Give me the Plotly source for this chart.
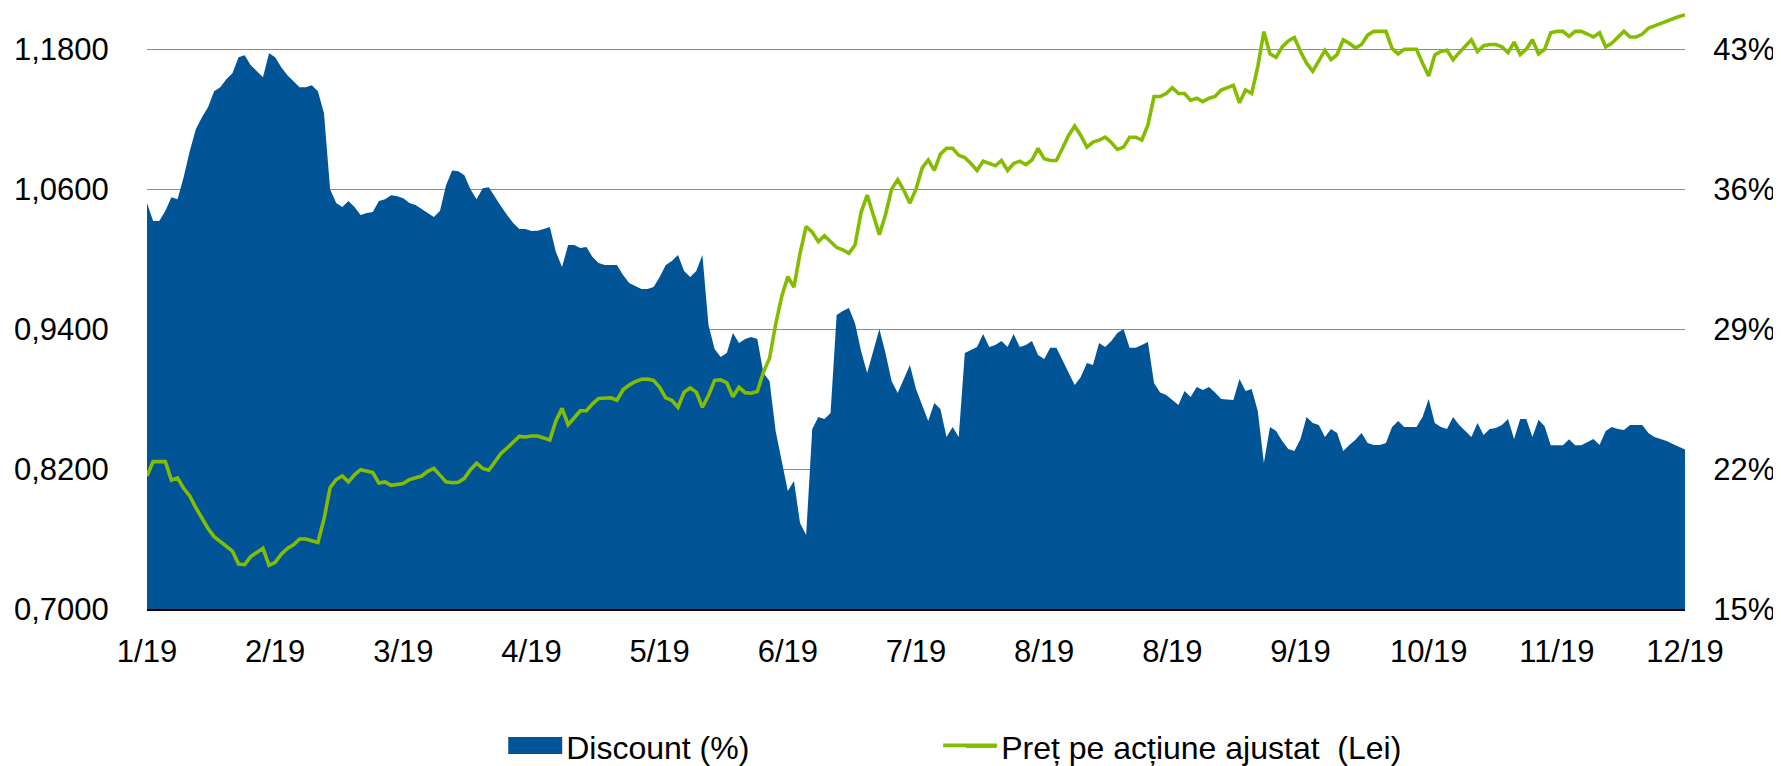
import plotly.graph_objects as go

# ---------------- data ----------------
month_labels = ["1/19", "2/19", "3/19", "4/19", "5/19", "6/19", "7/19",
                "8/19", "8/19", "9/19", "10/19", "11/19", "12/19"]

discount_pct = [
    35.3, 34.4, 34.4, 34.9, 35.6, 35.5, 36.6, 37.9, 39.0, 39.6,
    40.1, 40.9, 41.1, 41.5, 41.8, 42.6, 42.7, 42.2, 41.9, 41.6,
    42.8, 42.6, 42.1, 41.7, 41.4, 41.1, 41.1, 41.2, 40.9, 39.8,
    36.0, 35.3, 35.1, 35.4, 35.1, 34.7, 34.8, 34.85, 35.4, 35.5,
    35.7, 35.65, 35.55, 35.3, 35.2, 35.0, 34.8, 34.6, 34.9, 36.2,
    36.93, 36.9, 36.7, 36.0, 35.5, 36.05, 36.1, 35.6, 35.14, 34.7,
    34.3, 34.0, 34.0, 33.9, 33.92, 34.0, 34.1, 32.86, 32.1, 33.2,
    33.2, 33.06, 33.1, 32.6, 32.3, 32.2, 32.2, 32.2, 31.7, 31.3,
    31.15, 31.0, 31.0, 31.1, 31.6, 32.2, 32.4, 32.7, 31.9, 31.6,
    31.9, 32.7, 29.2, 28.0, 27.6, 27.8, 28.8, 28.3, 28.5, 28.6,
    28.5, 26.8, 26.4, 23.9, 22.4, 20.9, 21.4, 19.3, 18.7, 24.0,
    24.6, 24.5, 24.8, 29.7, 29.9, 30.05, 29.3, 27.9, 26.8, 27.9,
    29.0, 27.8, 26.4, 25.8, 26.5, 27.2, 26.0, 25.2, 24.4, 25.3,
    25.0, 23.6, 24.1, 23.6, 27.8, 27.95, 28.1, 28.75, 28.1, 28.2,
    28.4, 28.1, 28.75, 28.1, 28.2, 28.4, 27.7, 27.5, 28.07, 28.07,
    27.46, 26.8, 26.2, 26.6, 27.3, 27.2, 28.3, 28.1, 28.4, 28.8,
    29.0, 28.07, 28.07, 28.2, 28.35, 26.3, 25.83, 25.7, 25.45, 25.2,
    25.9, 25.6, 26.1, 25.95, 26.1, 25.83, 25.5, 25.47, 25.45, 26.5,
    25.9, 26.0, 24.9, 22.3, 24.1, 23.9, 23.4, 23.0, 22.9, 23.5,
    24.6, 24.3, 24.2, 23.6, 24.0, 23.8, 22.9, 23.2, 23.47, 23.8,
    23.3, 23.2, 23.2, 23.3, 24.1, 24.4, 24.1, 24.1, 24.1, 24.6,
    25.5, 24.3, 24.1, 24.0, 24.6, 24.2, 23.9, 23.6, 24.3, 23.7,
    24.0, 24.05, 24.2, 24.5, 23.5, 24.5, 24.5, 23.6, 24.47, 24.14,
    23.19, 23.19, 23.19, 23.49, 23.19, 23.19, 23.35, 23.5, 23.2, 23.9,
    24.1, 24.0, 23.95, 24.2, 24.2, 24.2, 23.8, 23.6, 23.5, 23.4,
    23.25, 23.1, 22.98,
]

price_lei = [
    0.8140, 0.8264, 0.8264, 0.8264, 0.8105, 0.8124, 0.8035, 0.7970, 0.7870, 0.7785,
    0.7690, 0.7620, 0.7580, 0.7535, 0.7496, 0.7385, 0.7380, 0.7450, 0.7485, 0.7520,
    0.7375, 0.7400, 0.7470, 0.7520, 0.7550, 0.7600, 0.7600, 0.7585, 0.7570, 0.7770,
    0.8040, 0.8110, 0.8141, 0.8090, 0.8150, 0.8194, 0.8185, 0.8170, 0.8080, 0.8089,
    0.8060, 0.8065, 0.8075, 0.8110, 0.8124, 0.8140, 0.8180, 0.8205, 0.8148, 0.8090,
    0.8083, 0.8087, 0.8120, 0.8194, 0.8250, 0.8205, 0.8190, 0.8260, 0.8333, 0.8380,
    0.8430, 0.8480, 0.8475, 0.8483, 0.8483, 0.8470, 0.8450, 0.8612, 0.8720, 0.8580,
    0.8640, 0.8700, 0.8700, 0.8759, 0.8805, 0.8811, 0.8811, 0.8790, 0.8880, 0.8920,
    0.8950, 0.8970, 0.8972, 0.8960, 0.8900, 0.8810, 0.8790, 0.8730, 0.8860, 0.8895,
    0.8860, 0.8730, 0.8830, 0.8960, 0.8965, 0.8940, 0.8820, 0.8902, 0.8855, 0.8850,
    0.8865, 0.9030, 0.9150, 0.9440, 0.9680, 0.9850, 0.9760, 1.0050, 1.0280, 1.0230,
    1.0150, 1.0200, 1.0150, 1.0100, 1.0080, 1.0050, 1.0120, 1.0400, 1.0549, 1.0380,
    1.0210, 1.0380, 1.0600, 1.0680, 1.0590, 1.0480, 1.0600, 1.0780, 1.0850, 1.0760,
    1.0900, 1.0950, 1.0950, 1.0890, 1.0870, 1.0820, 1.0760, 1.0840, 1.0820, 1.0800,
    1.0846, 1.0760, 1.0820, 1.0840, 1.0810, 1.0850, 1.0950, 1.0860, 1.0846, 1.0846,
    1.0951, 1.1060, 1.1140, 1.1060, 1.0960, 1.1003, 1.1020, 1.1045, 1.1000, 1.0940,
    1.0960, 1.1045, 1.1045, 1.1020, 1.1150, 1.1394, 1.1394, 1.1420, 1.1470, 1.1420,
    1.1420, 1.1360, 1.1380, 1.1350, 1.1380, 1.1394, 1.1450, 1.1470, 1.1490, 1.1340,
    1.1450, 1.1420, 1.1650, 1.1950, 1.1760, 1.1730, 1.1820, 1.1870, 1.1900, 1.1780,
    1.1680, 1.1610, 1.1700, 1.1790, 1.1710, 1.1754, 1.1880, 1.1850, 1.1810, 1.1840,
    1.1920, 1.1953, 1.1953, 1.1953, 1.1806, 1.1760, 1.1799, 1.1799, 1.1799, 1.1680,
    1.1570, 1.1750, 1.1780, 1.1790, 1.1710, 1.1770, 1.1830, 1.1880, 1.1780, 1.1830,
    1.1840, 1.1840, 1.1820, 1.1770, 1.1860, 1.1754, 1.1800, 1.1880, 1.1760, 1.1799,
    1.1940, 1.1953, 1.1953, 1.1910, 1.1953, 1.1953, 1.1930, 1.1904, 1.1940, 1.1820,
    1.1850, 1.1900, 1.1953, 1.1904, 1.1904, 1.1930, 1.1980, 1.2000, 1.2020, 1.2045,
    1.2060, 1.2080, 1.2093,
]

day_index = list(range(len(discount_pct)))
label_step = 21
tick_positions = [i * label_step for i in range(len(month_labels))]

left_ticks = [0.70, 0.82, 0.94, 1.06, 1.18]
right_ticks = [15, 22, 29, 36, 43]
right_tick_text = ["15%", "22%", "29%", "36%", "43%"]

# ---------------- styling ----------------
BLUE = "#015597"
GREEN = "#84BD00"
FONT = "Liberation Sans, Arial, sans-serif"
FS = 31
LEG_FS = 32

FIG_W, FIG_H = 1781, 766
PLOT_L, PLOT_R = 138.7, 1677.0
PLOT_H = 602.7
PLOT_W = PLOT_R - PLOT_L

LEI_MIN, LEI_MAX = 0.70, 1.2153
PCT_MIN = 15
PCT_MAX = PCT_MIN + 7 * (LEI_MAX - LEI_MIN) / 0.12

LEG_Y = (PLOT_H - 741) / PLOT_H


def px_x(v):
    return (v - PLOT_L) / PLOT_W


def px_y(v):
    return (PLOT_H - v) / PLOT_H


fig = go.Figure()

fig.add_trace(go.Scatter(
    x=day_index, y=discount_pct, name="Discount (%)",
    mode="lines", line=dict(width=0, color=BLUE),
    fill="tozeroy", fillcolor=BLUE, yaxis="y", legend="legend",
    hoverinfo="skip",
))
fig.add_trace(go.Scatter(
    x=day_index, y=price_lei, name="Preț pe acțiune ajustat  (Lei)",
    mode="lines", line=dict(width=3.6, color=GREEN),
    yaxis="y2", legend="legend2",
))

# larger legend swatches (Excel-style), placed behind the native legend icons
fig.add_shape(type="rect", xref="paper", yref="paper",
              x0=px_x(500), x1=px_x(554), y0=px_y(731), y1=px_y(748),
              fillcolor=BLUE, line=dict(width=0), layer="above")
fig.add_shape(type="line", xref="paper", yref="paper",
              x0=px_x(935), x1=px_x(989), y0=px_y(739.5), y1=px_y(739.5),
              line=dict(color=GREEN, width=3.6), layer="above")

fig.update_layout(
    width=FIG_W, height=FIG_H,
    margin=dict(l=PLOT_L, r=FIG_W - PLOT_R, t=0, b=FIG_H - PLOT_H),
    paper_bgcolor="white", plot_bgcolor="white",
    font=dict(family=FONT, size=FS, color="#000000"),
    separators=",.",
    xaxis=dict(
        range=[0, len(discount_pct) - 1],
        tickmode="array", tickvals=tick_positions, ticktext=month_labels,
        showgrid=False, zeroline=False,
        showline=True, linecolor="#000000", linewidth=2,
        ticks="outside", ticklen=14, tickcolor="rgba(0,0,0,0)",
        tickfont=dict(family=FONT, size=FS),
        automargin=False,
    ),
    yaxis=dict(
        side="right", range=[PCT_MIN, PCT_MAX],
        tickmode="array", tickvals=right_ticks, ticktext=right_tick_text,
        showgrid=True, gridcolor="#8c8c8c", gridwidth=1.3,
        zeroline=False, showline=False,
        ticks="outside", ticklen=21, tickcolor="rgba(0,0,0,0)",
        tickfont=dict(family=FONT, size=FS),
        automargin=False,
    ),
    yaxis2=dict(
        overlaying="y", side="left", range=[LEI_MIN, LEI_MAX],
        tickmode="array", tickvals=left_ticks, tickformat=".4f",
        showgrid=False, zeroline=False, showline=False,
        ticks="outside", ticklen=31, tickcolor="rgba(0,0,0,0)",
        tickfont=dict(family=FONT, size=FS),
        automargin=False,
    ),
    legend=dict(
        orientation="h", x=px_x(518), xanchor="left",
        y=LEG_Y, yanchor="middle",
        font=dict(family=FONT, size=LEG_FS), bgcolor="rgba(0,0,0,0)",
    ),
    legend2=dict(
        orientation="h", x=px_x(953), xanchor="left",
        y=LEG_Y, yanchor="middle",
        font=dict(family=FONT, size=LEG_FS), bgcolor="rgba(0,0,0,0)",
    ),
    showlegend=True,
)

fig.write_html("out.html")
